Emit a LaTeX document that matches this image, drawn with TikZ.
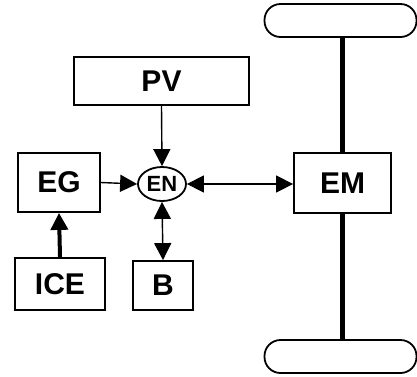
\documentclass[tikz,border=0pt]{standalone}
\usepackage{fontspec}
\setmainfont{Liberation Sans}
\usetikzlibrary{arrows.meta,positioning,shapes.geometric}

\begin{document}
\begin{tikzpicture}[
  x=1pt, y=-1pt,
  box/.style={rectangle, draw, line width=1.8pt, inner sep=0pt,
              font=\bfseries\fontsize{30}{32}\selectfont},
  hub/.style={ellipse, draw, line width=1.8pt, inner sep=0pt,
              minimum width=48pt, minimum height=34pt,
              font=\bfseries\fontsize{22}{24}\selectfont},
  wheel/.style={rectangle, draw, line width=1.8pt, rounded corners=16pt,
                minimum width=152pt, minimum height=33pt},
  arr/.style={-{Triangle[length=17pt,width=17pt]}, line width=1.4pt},
  darr/.style={{Triangle[length=17pt,width=17pt]}-{Triangle[length=17pt,width=17pt]},
               line width=1.4pt},
  shaft/.style={line width=5.5pt}]
\useasboundingbox (0,0) rectangle (417,376);
% sources and storage
\node[box, minimum width=175pt, minimum height=48pt] (pv) at (161.5,81) {PV};
\node[box, minimum width=82pt, minimum height=59pt] (eg) at (59,182.5) {EG};
\node[box, minimum width=90pt, minimum height=52pt] (ice) at (60,284) {ICE};
\node[box, minimum width=60pt, minimum height=49pt] (bat) at (163,285.5) {B};
\node[hub] (en) at (162,184) {EN};
% drive side
\node[box, minimum width=97pt, minimum height=60pt] (em) at (342.5,183) {EM};
\node[wheel] (wtop) at (340.5,20.5) {};
\node[wheel] (wbot) at (340.5,356.5) {};
\draw[shaft] (em.north) -- (em.north |- wtop.south);
\draw[shaft] (em.south) -- (em.south |- wbot.north);
% power flows
\draw[arr] (pv.south) -- (en.north);
\draw[arr] (eg.east) -- (en.west);
\draw[arr, line width=4pt] (ice.north) -- (eg.south);
\draw[darr] (en.south) -- (bat.north);
\draw[darr] (en.east) -- (en.east -| em.west);
\end{tikzpicture}
\end{document}
